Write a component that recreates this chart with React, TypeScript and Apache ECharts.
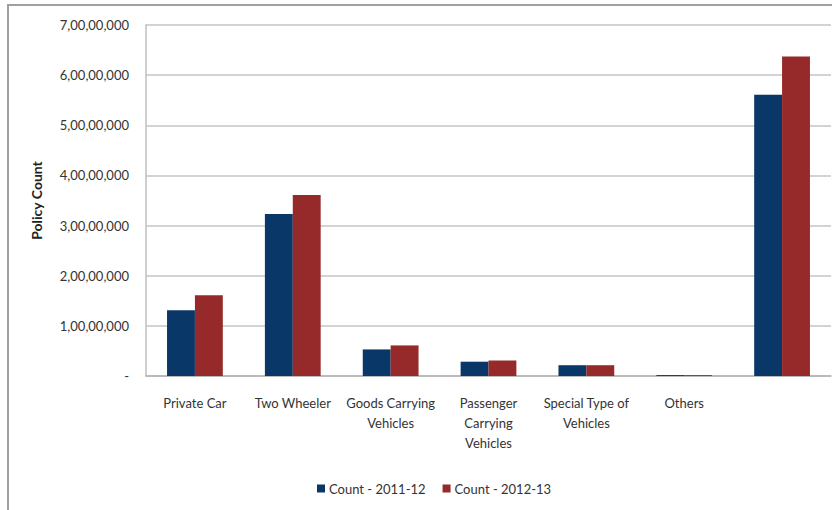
import React, { useEffect, useRef } from "react";
import * as echarts from "echarts";

const categories = [
  "Private Car",
  "Two Wheeler",
  "Goods Carrying\nVehicles",
  "Passenger\nCarrying\nVehicles",
  "Special Type of\nVehicles",
  "Others",
  "",
];
const count201112 = [13100000, 32300000, 5300000, 2850000, 2150000, 180000, 56100000];
const count201213 = [16100000, 36100000, 6100000, 3100000, 2150000, 170000, 63700000];
const seriesNames = ["Count - 2011-12", "Count - 2012-13"];
const colors = ["#083768", "#962929"];

// Indian digit grouping: 7,00,00,000; zero shown as a dash
function indianFormat(v: number): string {
  if (v === 0) return "-";
  const s = String(Math.round(v));
  if (s.length <= 3) return s;
  const last3 = s.slice(-3);
  let rest = s.slice(0, -3);
  const parts: string[] = [];
  while (rest.length > 2) {
    parts.unshift(rest.slice(-2));
    rest = rest.slice(0, -2);
  }
  if (rest.length) parts.unshift(rest);
  return parts.join(",") + "," + last3;
}

const FONT = "Lato, 'Open Sans', sans-serif";

export default function App() {
  const ref = useRef<HTMLDivElement>(null);
  useEffect(() => {
    if (!ref.current) return;
    const chart = echarts.init(ref.current, null, { renderer: "svg" });
    chart.setOption({
      animation: false,
      backgroundColor: "#ffffff",
      textStyle: { fontFamily: FONT },
      graphic: [
        {
          type: "rect",
          shape: { x: 8, y: 5, width: 900, height: 600 },
          style: { fill: "none", stroke: "#a0a0a0", lineWidth: 2 },
          silent: true,
        },
      ],
      grid: { left: 146, top: 25, right: 1, bottom: 134, containLabel: false },
      legend: {
        left: 312,
        top: 477,
        itemWidth: 8,
        itemHeight: 8,
        itemGap: 17,
        icon: "rect",
        textStyle: { fontFamily: FONT, fontSize: 13, color: "#333333", padding: [0, 0, 0, -1] },
        data: seriesNames,
      },
      xAxis: {
        type: "category",
        data: categories,
        axisLine: { show: true, lineStyle: { color: "#b3b3b3", width: 1.5 } },
        axisTick: { show: false },
        axisLabel: {
          fontFamily: FONT,
          fontSize: 13,
          color: "#333333",
          margin: 17,
          lineHeight: 20,
          interval: 0,
        },
      },
      yAxis: {
        type: "value",
        min: 0,
        max: 70000000,
        interval: 10000000,
        name: "Policy Count",
        nameLocation: "middle",
        nameGap: 103,
        nameTextStyle: { fontFamily: FONT, fontSize: 14, fontWeight: "bold", color: "#222222" },
        axisLine: { show: true, lineStyle: { color: "#bfbfbf", width: 1.5 } },
        axisTick: { show: false },
        splitLine: { show: true, lineStyle: { color: "#c4c4c4", width: 1.5 } },
        axisLabel: {
          fontFamily: FONT,
          fontSize: 13,
          color: "#333333",
          margin: 17,
          formatter: (v: number) => indianFormat(v),
        },
      },
      series: [
        {
          name: seriesNames[0],
          type: "bar",
          data: count201112,
          itemStyle: { color: colors[0] },
          barGap: "0%",
          barCategoryGap: "43%",
        },
        {
          name: seriesNames[1],
          type: "bar",
          data: count201213,
          itemStyle: { color: colors[1] },
          barGap: "0%",
          barCategoryGap: "43%",
        },
      ],
    });
    return () => chart.dispose();
  }, []);
  return (
    <div
      ref={ref}
      style={{ position: "fixed", left: 0, top: 0, width: 832, height: 510 }}
    />
  );
}
